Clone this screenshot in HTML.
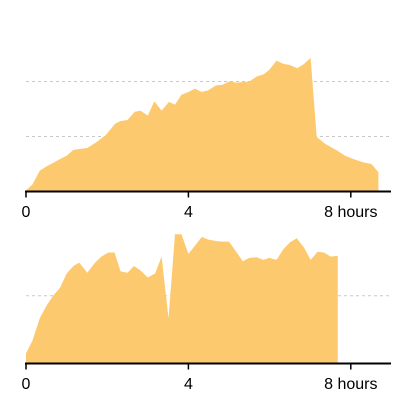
<!DOCTYPE html>
<html><head><meta charset="utf-8"><style>
html,body{margin:0;padding:0;background:#fff;}
svg{display:block;font-family:"Liberation Sans",Arial,sans-serif;}
</style></head><body>
<svg id="c" width="416" height="416"></svg>
<script>
const hours1=[0,.16,.34,.51,.67,.84,1.0,1.17,1.51,1.74,1.97,2.19,2.32,2.5,2.68,2.82,3.0,3.16,3.34,3.52,3.67,3.83,4.0,4.16,4.33,4.49,4.68,4.84,5.0,5.19,5.5,5.68,5.85,5.99,6.17,6.34,6.5,6.68,6.85,7.01,7.16,7.36,7.65,7.86,8.06,8.31,8.51,8.68];
const values1=[.02,.13,.38,.46,.52,.59,.65,.76,.79,.9,1.03,1.23,1.28,1.3,1.45,1.47,1.38,1.64,1.47,1.63,1.58,1.76,1.81,1.87,1.81,1.84,1.93,1.94,2.0,1.98,2.0,2.09,2.13,2.21,2.38,2.32,2.3,2.24,2.32,2.43,.99,.87,.75,.65,.59,.53,.5,.35];
const hours2=[0,.16,.34,.51,.67,.84,1.0,1.17,1.31,1.51,1.7,1.86,2.03,2.18,2.33,2.5,2.66,2.83,3.0,3.18,3.34,3.51,3.67,3.83,4.0,4.16,4.33,4.49,4.68,4.84,5.0,5.19,5.34,5.5,5.68,5.85,5.99,6.17,6.34,6.5,6.67,6.85,7.01,7.18,7.34,7.5,7.68];
const values2=[.15,.34,.67,.86,1.0,1.12,1.33,1.44,1.49,1.34,1.49,1.58,1.64,1.64,1.36,1.34,1.44,1.37,1.27,1.33,1.58,.67,1.91,1.91,1.62,1.74,1.87,1.83,1.81,1.8,1.8,1.64,1.51,1.56,1.57,1.53,1.56,1.53,1.69,1.79,1.85,1.71,1.53,1.65,1.64,1.58,1.59];
const tickVals=[0,4,8];
const tickLabels=["0","4","8 hours"];
const svg=document.getElementById('c');
const NS='http://www.w3.org/2000/svg';
function mk(t,a){const e=document.createElementNS(NS,t);for(const k in a)e.setAttribute(k,a[k]);svg.appendChild(e);return e;}
function chart(hours,values,base,unit,grids,idx){
  const x=h=>26+h*40.6;
  const y=v=>base-v*unit;
  grids.forEach(g=>{
    const l=mk('line',{x1:26,x2:390,y1:y(g),y2:y(g),stroke:'#c8c8c8','stroke-dasharray':'3,3','stroke-width':1});
    
    
  });
  let d='M'+x(hours[0])+','+base;
  hours.forEach((h,i)=>{d+='L'+x(h)+','+y(values[i]);});
  d+='L'+x(hours[hours.length-1])+','+base+'Z';
  const p=mk('path',{d:d,fill:'#fdc96f'});
  
  
  const ax=mk('line',{x1:25,x2:391,y1:base,y2:base,stroke:'#000','stroke-width':2});
  
  
  tickVals.forEach((t,i)=>{
    const tk=mk('line',{x1:x(t),x2:x(t),y1:base,y2:base+6,stroke:'#000','stroke-width':1.5});
    
    
    const tx=mk('text',{x:x(t),y:base+25.5,'text-anchor':'middle','font-size':16,fill:'#000'});
    tx.textContent=tickLabels[i];
    
    
  });
}
chart(hours1,values1,191.5,55,[1,2],1);
chart(hours2,values2,363.5,67.7,[1],2);
</script>
</body></html>
